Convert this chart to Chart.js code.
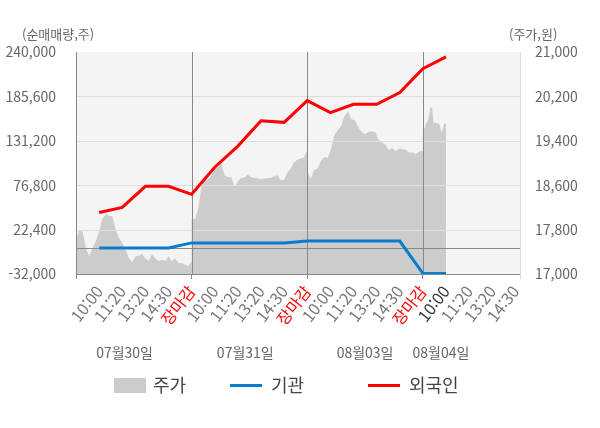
<!DOCTYPE html>
<html lang="ko">
<head>
<meta charset="utf-8">
<title>순매매량 / 주가</title>
<script src="https://cdn.jsdelivr.net/npm/chart.js@4/dist/chart.umd.min.js"></script>
<style>
  html, body { margin: 0; padding: 0; background: #fff; }
  #wrap { width: 600px; height: 428px; }
</style>
</head>
<body>
<div id="wrap"><canvas id="grafico" width="600" height="428"></canvas></div>
<script>
const horas = [
  '10:00', '11:20', '13:20', '14:30', '장마감',
  '10:00', '11:20', '13:20', '14:30', '장마감',
  '10:00', '11:20', '13:20', '14:30', '장마감',
  '10:00', '11:20', '13:20', '14:30'
];
const fechas = ['07월30일', '07월31일', '08월03일', '08월04일'];

// 순매매량 (주), one value per time label up to 08/04 10:00
const gigwan = [0, 0, 0, 0, 6100, 6100, 6100, 6100, 6100, 8400, 8400, 8400, 8400, 8400, -31300, -31300];
const oegugin = [43400, 49600, 75400, 75400, 65600, 98800, 124700, 155800, 153800, 180500, 165700, 176000, 176000, 190300, 219500, 234000];

// 주가 (원), intraday samples per day
const precioDia1 = [17620, 17790, 17760, 17470, 17320, 17470, 17590, 17770, 17990, 18080, 18050, 18040, 17810, 17650, 17560, 17440, 17290, 17210, 17320, 17330, 17360, 17280, 17240, 17350, 17290, 17230, 17260, 17230, 17320, 17230, 17290, 17200, 17200, 17170, 17140, 17230];
const precioDia2 = [18010, 17980, 18180, 18580, 18680, 18700, 18780, 18890, 18930, 18990, 18770, 18750, 18750, 18570, 18670, 18730, 18740, 18790, 18750, 18730, 18720, 18710, 18720, 18730, 18730, 18760, 18780, 18690, 18700, 18830, 18900, 19010, 19060, 19080, 19100, 19230];
const precioDia3 = [18860, 18710, 18870, 18900, 19030, 19110, 19090, 19250, 19510, 19590, 19670, 19850, 19930, 19790, 19770, 19650, 19560, 19520, 19560, 19570, 19560, 19410, 19370, 19330, 19230, 19270, 19210, 19260, 19250, 19240, 19190, 19190, 19160, 19210, 19210];
const precioDia4 = [19590, 19620, 19710, 19740, 19860, 20020, 19980, 19710, 19740, 19710, 19720, 19680, 19540, 19620, 19710, 19710];

const familia = "'Noto Sans CJK KR', 'Noto Sans', sans-serif";
Chart.defaults.font.family = familia;

const porDia = 5;          // label slots per trading day
const xMax = 19.2;         // right edge of the plot
const marcasX = [0, ...horas.map((h, i) => i + 1), xMax];

// day 4 only runs until the 10:00 slot
const puntosPrecio = [];
[precioDia1, precioDia2, precioDia3, precioDia4].forEach((serie, d) => {
  const ancho = d < 3 ? porDia : 1;
  serie.forEach((v, i) => {
    puntosPrecio.push({ x: d * porDia + ancho * i / (serie.length - 1), y: v });
  });
});

const aPuntos = (arr) => arr.map((v, i) => ({ x: i + 1, y: v }));

const numero = (v) => Number(v).toLocaleString('en-US');

const decorado = {
  id: 'decorado',
  beforeDraw: (chart) => {
    const { ctx, chartArea: a } = chart;
    ctx.save();
    ctx.fillStyle = '#f4f4f4';
    ctx.fillRect(a.left, a.top, a.right - a.left, a.bottom - a.top);
    ctx.restore();
  },
  afterDatasetDraw: (chart, args) => {
    // grid goes over the price area, under the lines
    if (args.index !== 0) return;
    const { ctx, chartArea: a, scales } = chart;
    ctx.save();
    ctx.lineWidth = 1;
    const linea = (x1, y1, x2, y2, color) => {
      ctx.strokeStyle = color;
      ctx.beginPath();
      ctx.moveTo(x1, y1);
      ctx.lineTo(x2, y2);
      ctx.stroke();
    };
    scales.y.ticks.forEach((t, i, arr) => {
      if (i === 0 || i === arr.length - 1) return;
      const py = Math.round(scales.y.getPixelForValue(t.value)) + 0.5;
      linea(a.left, py, a.right, py, '#dddddd');
    });
    const cero = Math.round(scales.y.getPixelForValue(0)) + 0.5;
    linea(a.left, cero, a.right, cero, '#888888');
    horas.forEach((h, i) => {
      if (h !== '장마감') return;
      const px = Math.round(scales.x.getPixelForValue(i + 1)) + 0.5;
      linea(px, a.top, px, a.bottom, '#888888');
    });
    ctx.restore();
  },
  afterDraw: (chart) => {
    const { ctx, scales } = chart;
    ctx.save();
    ctx.textBaseline = 'middle';

    ctx.font = `13px ${familia}`;
    ctx.fillStyle = '#666666';
    ctx.textAlign = 'left';
    ctx.fillText('(순매매량,주)', 22, 34);
    ctx.fillText('(주가,원)', 509, 34);

    ctx.font = `14px ${familia}`;
    ctx.textAlign = 'center';
    const posFechas = [2.1, 7.32, 12.5, 15.78];
    fechas.forEach((f, i) => {
      ctx.fillText(f, scales.x.getPixelForValue(posFechas[i]), 353);
    });

    // legend
    const posLeyenda = [114, 230, 368];
    const yl = 385.5;
    ctx.font = `18px ${familia}`;
    ctx.textAlign = 'left';
    chart.data.datasets.forEach((ds, i) => {
      const x = posLeyenda[i];
      if (ds.fill) {
        ctx.fillStyle = ds.backgroundColor;
        ctx.fillRect(x, yl - 7.5, 32, 15);
      } else {
        ctx.strokeStyle = ds.borderColor;
        ctx.lineWidth = 3;
        ctx.beginPath();
        ctx.moveTo(x, yl);
        ctx.lineTo(x + 32, yl);
        ctx.stroke();
      }
      ctx.fillStyle = '#444444';
      ctx.fillText(ds.label, x + (ds.fill ? 39 : 41), yl);
    });
    ctx.restore();
  }
};

const ctx = document.getElementById('grafico');

const chart = new Chart(ctx, {
  type: 'line',
  data: {
    datasets: [
      {
        label: '주가',
        data: puntosPrecio,
        yAxisID: 'y1',
        borderWidth: 0,
        borderColor: '#cccccc',
        backgroundColor: '#cccccc',
        fill: 'start',
        pointRadius: 0,
        order: 2
      },
      {
        label: '기관',
        data: aPuntos(gigwan),
        yAxisID: 'y',
        borderWidth: 3,
        borderColor: '#0a7ccc',
        backgroundColor: '#0a7ccc',
        fill: false,
        pointRadius: 0,
        order: 1
      },
      {
        label: '외국인',
        data: aPuntos(oegugin),
        yAxisID: 'y',
        borderWidth: 3,
        borderColor: '#ff0000',
        backgroundColor: '#ff0000',
        fill: false,
        pointRadius: 0,
        order: 0
      }
    ]
  },
  options: {
    responsive: false,
    animation: false,
    layout: { padding: { top: 52, left: 0, right: 0, bottom: 0 } },
    plugins: {
      legend: { display: false },
      tooltip: { enabled: false }
    },
    scales: {
      x: {
        type: 'linear',
        min: 0,
        max: xMax,
        afterBuildTicks: (scale) => {
          scale.ticks = marcasX.map(v => ({ value: v }));
        },
        afterFit: (scale) => { scale.height = 154; },
        grid: {
          drawOnChartArea: false,
          tickLength: 5,
          color: (c) => {
            const v = c.tick ? c.tick.value : -1;
            if (v === 0 || v % porDia === 0) return '#888888';
            if (v === xMax) return '#dddddd';
            return 'rgba(0,0,0,0)';
          }
        },
        border: { color: '#888888', z: 1 },
        ticks: {
          autoSkip: false,
          minRotation: 52,
          maxRotation: 52,
          padding: 3,
          font: { size: 16 },
          color: (c) => {
            if (c.tick && c.tick.label === '장마감') return '#ff0000';
            if (c.index === 16) return '#333333';
            return '#777777';
          },
          callback: (v, i) => (i >= 1 && i <= horas.length) ? horas[i - 1] : ''
        }
      },
      y: {
        position: 'left',
        min: -32000,
        max: 240000,
        afterFit: (scale) => { scale.width = 76; },
        grid: { display: false },
        border: { color: '#888888', z: 1 },
        ticks: {
          stepSize: 54400,
          padding: 12,
          color: '#666666',
          font: { size: 14 },
          callback: numero
        }
      },
      y1: {
        position: 'right',
        min: 17000,
        max: 21000,
        afterFit: (scale) => { scale.width = 80; },
        grid: { display: false },
        border: { color: '#dddddd', z: 1 },
        ticks: {
          stepSize: 800,
          padding: 7,
          color: '#666666',
          font: { size: 14 },
          callback: numero
        }
      }
    }
  },
  plugins: [decorado]
});
</script>
</body>
</html>
